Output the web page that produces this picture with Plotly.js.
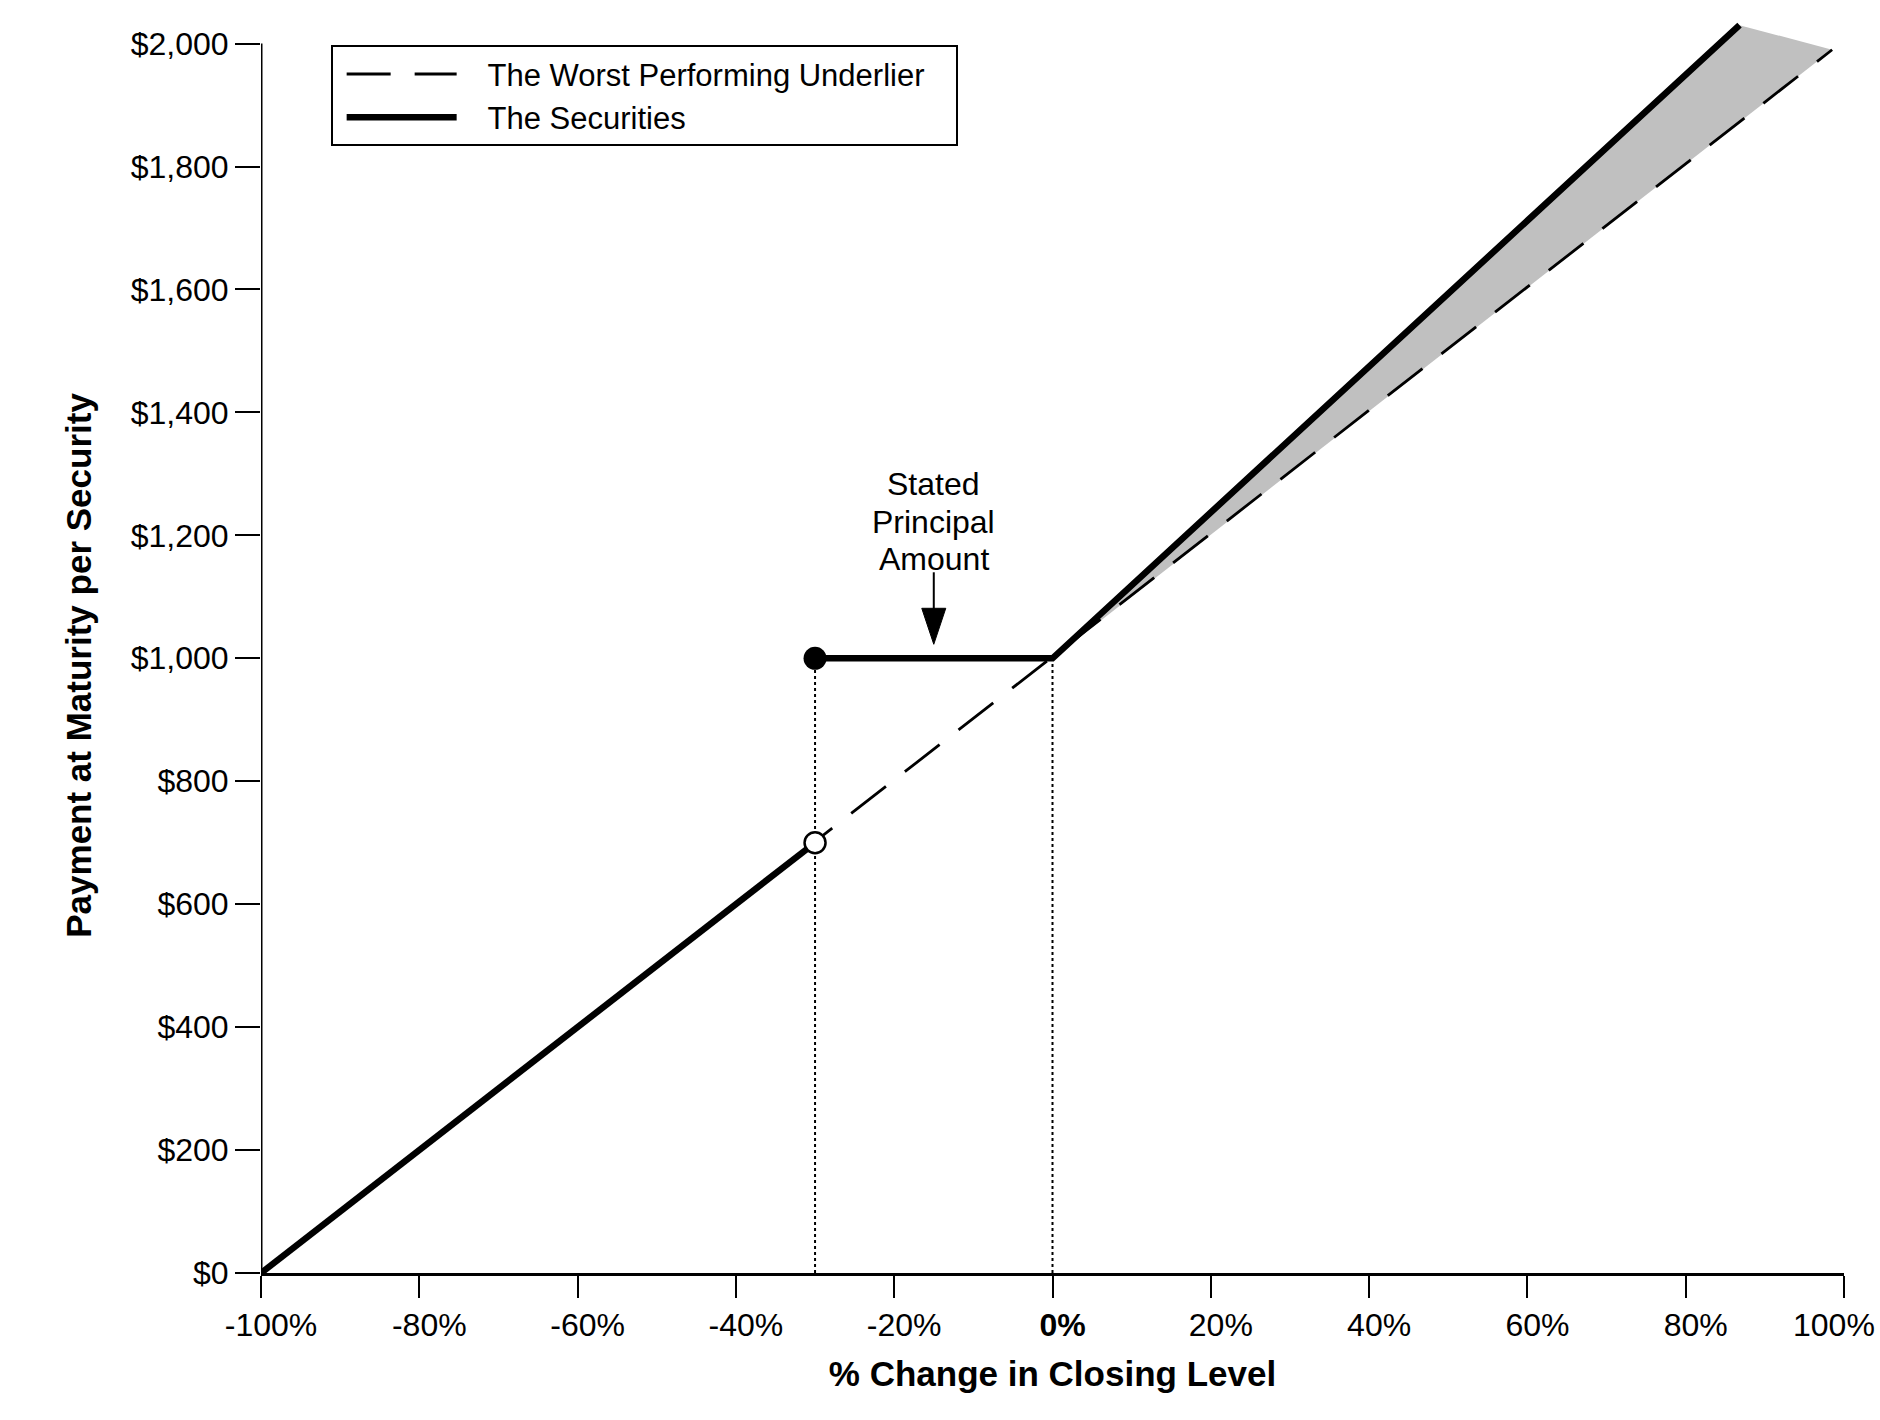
<!DOCTYPE html>
<html>
<head>
<meta charset="utf-8">
<script src="https://cdn.plot.ly/plotly-3.0.1.min.js"></script>
<style>
  body { margin: 0; background: #fff; }
  #chart { width: 1880px; height: 1420px; }
</style>
</head>
<body>
<div id="chart"></div>
<script>
// % change in closing level of the worst performing underlier (x) vs payment ($)
var underlierX = [-100, 98.5];
var underlierY = [0, 1990];

// the securities: below the -30% threshold they track the underlier, otherwise pay principal or leveraged upside
var securitiesX = [-100, -30, null, -30, 0, 86.8];
var securitiesY = [0, 700, null, 1000, 1000, 2030];

// threshold / start markers
var thresholdX = -30;
var principal = 1000;
var belowThresholdY = 700;

// grey band showing the extra upside of the securities
var bandX = [0, 86.8, 98.5, 0];
var bandY = [1000, 2030, 1990, 1000];

var NB = '\u00a0';
var xTickVals = [-100, -80, -60, -40, -20, 0, 20, 40, 60, 80, 100];
// the last label is drawn as an annotation so it can sit inside the page edge
var xTickText = ['-100%', '-80%', '-60%', '-40%', '-20%', '<b>0%</b>', '20%', '40%', '60%', '80%', ''];
var yTickVals = [0, 200, 400, 600, 800, 1000, 1200, 1400, 1600, 1800, 2000];
var yTickText = ['$0', '$200', '$400', '$600', '$800', '$1,000', '$1,200', '$1,400', '$1,600', '$1,800', '$2,000'];

var noteLines = ['Stated', 'Principal', 'Amount'];
var noteY = [1283, 1222, 1161];

var FONT = 'Liberation Sans, Arial, sans-serif';

var band = {
  x: bandX, y: bandY, type: 'scatter', mode: 'lines',
  fill: 'toself', fillcolor: '#c0c0c0',
  line: {width: 0, color: 'rgba(0,0,0,0)'},
  showlegend: false, hoverinfo: 'skip'
};

var guides = {
  x: [thresholdX, thresholdX, null, 0, 0],
  y: [0, principal, null, 0, principal],
  type: 'scatter', mode: 'lines',
  line: {color: '#000', width: 2, dash: 'dot'},
  showlegend: false, hoverinfo: 'skip'
};

var underlier = {
  x: underlierX, y: underlierY, type: 'scatter', mode: 'lines',
  name: NB + NB + NB + 'The Worst Performing Underlier' + NB + NB + NB,
  line: {color: '#000', width: 2.8, dash: '44px,24px'}
};

var securities = {
  x: securitiesX, y: securitiesY, type: 'scatter', mode: 'lines',
  name: NB + NB + NB + 'The Securities',
  line: {color: '#000', width: 6.5}
};

var closedDot = {
  x: [thresholdX], y: [principal], type: 'scatter', mode: 'markers',
  marker: {size: 23, color: '#000', opacity: 1, line: {color: '#000', width: 0}},
  showlegend: false, cliponaxis: false, hoverinfo: 'skip'
};

var openDot = {
  x: [thresholdX], y: [belowThresholdY], type: 'scatter', mode: 'markers',
  marker: {size: 21, color: '#fff', opacity: 1, line: {color: '#000', width: 2.5}},
  showlegend: false, cliponaxis: false, hoverinfo: 'skip'
};

var annotations = noteLines.map(function (t, i) {
  return {x: -15, y: noteY[i], xref: 'x', yref: 'y', showarrow: false,
          text: t, font: {family: FONT, size: 32, color: '#000'}};
});
annotations.push({
  x: -0.115, y: 0.485, xref: 'paper', yref: 'paper', showarrow: false,
  xanchor: 'center', yanchor: 'middle', textangle: -90,
  text: '<b>Payment at Maturity per Security</b>',
  font: {family: FONT, size: 35, color: '#000'}
});
annotations.push({
  x: xTickVals[xTickVals.length - 1], y: 0, xref: 'x', yref: 'paper', showarrow: false,
  xanchor: 'center', yanchor: 'top', xshift: -10, yshift: -32,
  text: '100%', font: {family: FONT, size: 32, color: '#000'}
});

var layout = {
  width: 1880, height: 1420,
  margin: {l: 261, r: 36, t: 18.6, b: 146.5},
  paper_bgcolor: '#fff', plot_bgcolor: '#fff',
  font: {family: FONT, size: 31, color: '#000'},
  showlegend: true,
  legend: {
    x: 0.044, y: 0.979, xanchor: 'left', yanchor: 'top',
    bgcolor: '#fff', bordercolor: '#000', borderwidth: 2,
    font: {family: FONT, size: 31, color: '#000'},
    itemwidth: 110, indentation: 9, traceorder: 'normal'
  },
  xaxis: {
    range: [-100, 100], tickvals: xTickVals, ticktext: xTickText,
    showgrid: false, zeroline: false, showline: true, linecolor: '#000', linewidth: 3,
    ticks: 'outside', ticklen: 22, tickwidth: 2, tickcolor: '#000',
    ticklabelstandoff: 0, ticklabelshift: 10,
    tickfont: {family: FONT, size: 32, color: '#000'},
    title: {text: '<b>% Change in Closing Level</b>', font: {family: FONT, size: 35, color: '#000'}, standoff: 20}
  },
  yaxis: {
    range: [0, 2040], tickvals: yTickVals, ticktext: yTickText,
    showgrid: false, zeroline: false, showline: false,
    ticks: 'outside', ticklen: 25, tickwidth: 2, tickcolor: '#000',
    tickfont: {family: FONT, size: 32, color: '#000'}
  },
  shapes: [
    // y axis line stops at the $2,000 tick
    {type: 'line', xref: 'x', yref: 'y', x0: -100, x1: -100, y0: 0, y1: 2000,
     line: {color: '#000', width: 3}, layer: 'above'},
    // arrow shaft
    {type: 'line', xref: 'x', yref: 'y', xsizemode: 'pixel', ysizemode: 'pixel',
     xanchor: -15, yanchor: principal, x0: 0, x1: 0, y0: 86, y1: 48,
     line: {color: '#000', width: 2}},
    // arrow head
    {type: 'path', xref: 'x', yref: 'y', xsizemode: 'pixel', ysizemode: 'pixel',
     xanchor: -15, yanchor: principal, path: 'M-12,50 L12,50 L0,14 Z',
     fillcolor: '#000', line: {color: '#000', width: 1}}
  ],
  annotations: annotations
};

Plotly.newPlot('chart', [band, guides, underlier, securities, closedDot, openDot], layout, {displayModeBar: false, staticPlot: true});
</script>
</body>
</html>
